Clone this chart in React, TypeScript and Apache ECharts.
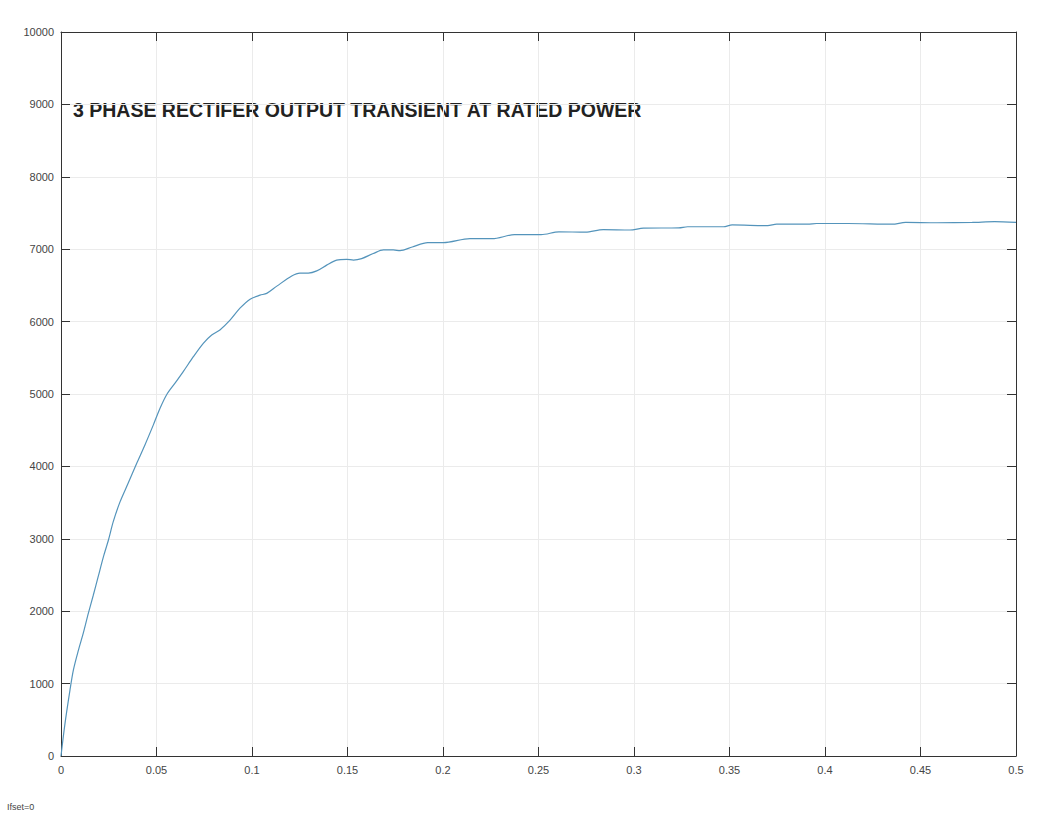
import React, { useEffect, useRef } from "react";
import * as echarts from "echarts";

const timeS = [0, 0.0021, 0.0047, 0.0065, 0.0091, 0.0117, 0.0143, 0.0169, 0.0195, 0.0222, 0.0248, 0.0274, 0.0309, 0.0352, 0.0396, 0.044, 0.0483, 0.0518, 0.0553, 0.0597, 0.064, 0.0693, 0.0745, 0.0789, 0.0832, 0.0885, 0.0937, 0.099, 0.1042, 0.1077, 0.113, 0.1208, 0.1251, 0.1295, 0.1339, 0.1391, 0.1443, 0.1496, 0.1531, 0.1574, 0.1635, 0.1688, 0.174, 0.1775, 0.1839, 0.192, 0.2002, 0.2141, 0.2258, 0.2374, 0.2514, 0.2607, 0.2746, 0.2839, 0.2979, 0.3049, 0.3235, 0.3281, 0.3468, 0.3514, 0.37, 0.3747, 0.391, 0.3956, 0.412, 0.4352, 0.4422, 0.4585, 0.4771, 0.4888, 0.5];
const outputValues = [0, 450, 910, 1190, 1460, 1700, 1970, 2220, 2480, 2750, 2980, 3240, 3510, 3770, 4040, 4300, 4570, 4800, 4990, 5150, 5310, 5515, 5700, 5815, 5885, 6020, 6185, 6310, 6365, 6390, 6490, 6630, 6670, 6670, 6700, 6780, 6850, 6860, 6850, 6870, 6940, 6990, 6990, 6980, 7030, 7090, 7090, 7145, 7145, 7200, 7200, 7240, 7235, 7270, 7265, 7290, 7295, 7310, 7310, 7335, 7325, 7345, 7345, 7355, 7355, 7345, 7370, 7365, 7370, 7380, 7370];

const titleText = "3 PHASE RECTIFER OUTPUT TRANSIENT AT RATED POWER";
const footText = "Ifset=0";

export default function App() {
  const ref = useRef<HTMLDivElement>(null);
  useEffect(() => {
    if (!ref.current) return;
    const chart = echarts.init(ref.current, undefined, { renderer: "svg" });
    const axisColor = "#333333";
    const labelStyle = { color: "#454545", fontSize: 11, fontFamily: "Liberation Sans, Arial, sans-serif" };
    const grid = { left: 61, right: 31, top: 32, bottom: 58 };
    const tick = { show: true, inside: true, length: 9, lineStyle: { color: axisColor } };
    const line = { show: true, onZero: false, lineStyle: { color: axisColor, width: 1 } };
    chart.setOption({
      animation: false,
      backgroundColor: "#ffffff",
      grid,
      xAxis: [
        {
          type: "value",
          min: 0,
          max: 0.5,
          interval: 0.05,
          position: "bottom",
          axisLine: line,
          axisTick: tick,
          axisLabel: { ...labelStyle, margin: 8, formatter: (v: number) => String(v) },
          splitLine: { show: true, lineStyle: { color: "#ebebeb", width: 1 } },
        },
        {
          type: "value",
          min: 0,
          max: 0.5,
          interval: 0.05,
          position: "top",
          axisLine: line,
          axisTick: tick,
          axisLabel: { show: false },
          splitLine: { show: false },
        },
      ],
      yAxis: [
        {
          type: "value",
          min: 0,
          max: 10000,
          interval: 1000,
          position: "left",
          axisLine: line,
          axisTick: tick,
          axisLabel: { ...labelStyle, margin: 7, formatter: (v: number) => String(v) },
          splitLine: { show: true, lineStyle: { color: "#ebebeb", width: 1 } },
        },
        {
          type: "value",
          min: 0,
          max: 10000,
          interval: 1000,
          position: "right",
          axisLine: line,
          axisTick: tick,
          axisLabel: { show: false },
          splitLine: { show: false },
        },
      ],
      series: [
        {
          type: "line",
          xAxisIndex: 0,
          yAxisIndex: 0,
          data: timeS.map((t, i) => [t, outputValues[i]]),
          showSymbol: false,
          smooth: 0.3,
          lineStyle: { color: "#5494bb", width: 1.2 },
        },
      ],
      graphic: [
        {
          type: "text",
          left: 73,
          top: 100,
          style: {
            text: titleText,
            fill: "#222222",
            font: "bold 19.5px 'Liberation Sans', Arial, sans-serif",
          },
        },
        {
          type: "text",
          left: 7,
          top: 802,
          style: {
            text: footText,
            fill: "#444444",
            font: "9px 'Liberation Sans', Arial, sans-serif",
          },
        },
      ],
    });
    return () => chart.dispose();
  }, []);
  return (
    <div
      ref={ref}
      style={{ position: "fixed", left: 0, top: 0, width: 1047, height: 814, background: "#fff" }}
    />
  );
}
